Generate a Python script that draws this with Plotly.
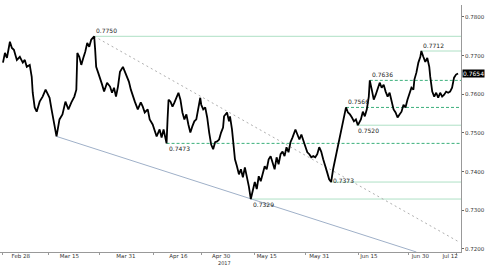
import plotly.graph_objects as go

# ---- data ----
bars = [3,5,7,10,12,14,17,20,23,25,27,30,32,33,35,37,40,43,46,48,50,52,54,56,57,60,63,66,69,72,75,77,78,80,82,84,86,88,90,92,95,
        96,97,99,101,103,105,108,111,113,115,117,119,121,124,126,128,130,132,134,136,139,142,144,146,149,151,154,156,158,161,163,165,168,169,170,172,174,176,178,180,
        182,184,186,188,190,192,194,196,198,200,202,203,205,207,209,211,213,215,217,219,221,223,225,226,229,231,232,234,235,237,239,241,243,245,247,249,251,253,255,257,259,261,263,265,267,269,271,273,
        275,277,279,281,283,285,287,289,291,293,295,297,298,300,302,304,306,308,310,312,314,316,318,320,322,324,326,328,330,332,334,336,338,340,342,344,346,347,349,351,353,355,357,359,361,
        364,366,368,370,372,373,375,377,379,381,383,385,387,389,391,393,395,397,399,401,403,405,407,409,411,413,415,417,418,420,422,424,425,427,429,431,433,434,436,438,440,442,444,446,448,450,452,454,456,458,460,462]
closes = [0.7682,0.7707,0.7694,0.7736,0.7720,0.7715,0.7689,0.7697,0.7682,0.7689,0.7671,0.7676,0.7645,0.7604,0.7566,0.7555,0.7581,0.7594,0.7612,0.7599,0.7591,0.7561,0.7535,0.7509,0.7491,0.7535,0.7548,0.7581,0.7561,0.7579,0.7594,0.7612,0.7707,0.7697,0.7676,0.7694,0.7710,0.7733,0.7723,0.7741,0.7750,
          0.7715,0.7671,0.7656,0.7643,0.7625,0.7607,0.7630,0.7620,0.7604,0.7617,0.7594,0.7620,0.7658,0.7671,0.7658,0.7645,0.7633,0.7612,0.7599,0.7581,0.7561,0.7579,0.7568,0.7553,0.7561,0.7535,0.7522,0.7509,0.7491,0.7509,0.7488,0.7509,0.7473,0.7535,0.7586,0.7581,0.7568,0.7579,0.7591,0.7604,
          0.7586,0.7553,0.7535,0.7548,0.7522,0.7501,0.7517,0.7530,0.7535,0.7568,0.7591,0.7573,0.7561,0.7566,0.7540,0.7501,0.7470,0.7458,0.7476,0.7478,0.7483,0.7501,0.7514,0.7543,0.7553,0.7530,0.7543,0.7509,0.7476,0.7432,0.7414,0.7393,0.7406,0.7385,0.7411,0.7388,0.7362,0.7329,0.7355,0.7373,0.7355,0.7388,0.7375,0.7393,0.7414,0.7406,0.7432,0.7440,
          0.7419,0.7406,0.7437,0.7419,0.7445,0.7452,0.7440,0.7463,0.7450,0.7476,0.7488,0.7501,0.7509,0.7496,0.7483,0.7496,0.7478,0.7465,0.7450,0.7445,0.7437,0.7440,0.7437,0.7445,0.7463,0.7452,0.7432,0.7411,0.7398,0.7380,0.7373,0.7406,0.7432,0.7450,0.7478,0.7509,0.7527,0.7543,0.7566,0.7553,0.7548,0.7540,0.7530,0.7535,0.7520,
          0.7535,0.7555,0.7543,0.7561,0.7594,0.7636,0.7612,0.7586,0.7599,0.7617,0.7630,0.7617,0.7625,0.7607,0.7594,0.7604,0.7581,0.7561,0.7553,0.7540,0.7548,0.7555,0.7573,0.7566,0.7586,0.7604,0.7617,0.7612,0.7638,0.7656,0.7682,0.7697,0.7712,0.7697,0.7684,0.7694,0.7671,0.7645,0.7607,0.7594,0.7604,0.7591,0.7604,0.7594,0.7599,0.7607,0.7604,0.7607,0.7617,0.7643,0.7651,0.7654]

tick_bars = [21, 70, 127, 180, 223, 269, 322, 372, 424, 454]
tick_labels = ["Feb 28", "Mar 15", "Mar 31", "Apr 16", "Apr 30", "May 15", "May 31", "Jun 15", "Jun 30", "Jul 12"]
minor_bars = [3, 49, 100, 155, 203, 257, 308, 362, 412, 460]
y_ticks = [0.7200, 0.7300, 0.7400, 0.7500, 0.7600, 0.7700, 0.7800]

# key levels: (price, start bar, style, label position)
level_prices = [0.7750, 0.7712, 0.7636, 0.7566, 0.7520, 0.7473, 0.7373, 0.7329]
level_starts = [95, 425, 373, 349, 359, 168, 334, 253]
level_dashed = [False, False, True, True, False, True, False, False]
level_label_pos = ["above", "above", "above", "above", "below", "below", "mid", "below"]

# trend lines
resist_bars = [95, 463]
resist_prices = [0.7750, 0.7218]
support_bars = [57, 420]
support_prices = [0.7491, 0.7192]

last_price = 0.7654
year_label = "2017"
year_bar = 226

X_MAX = 465
Y_RANGE = [0.7192, 0.7831]

fig = go.Figure()

for p, s, d in zip(level_prices, level_starts, level_dashed):
    fig.add_shape(type="line", x0=s, x1=X_MAX, y0=p, y1=p, xref="x", yref="y", layer="below",
                  line=dict(color="#3cb07c" if d else "#aee0c5", width=1,
                            dash="3px,2px" if d else "solid"))

fig.add_trace(go.Scatter(x=resist_bars, y=resist_prices, mode="lines",
                         line=dict(color="#b0b0b0", width=1, dash="2px,3px"), hoverinfo="skip"))
fig.add_trace(go.Scatter(x=support_bars, y=support_prices, mode="lines",
                         line=dict(color="#9fb0c8", width=1), hoverinfo="skip"))

fig.add_trace(go.Scatter(x=bars, y=closes, mode="lines",
                         line=dict(color="#000000", width=1.8), hoverinfo="skip"))

for p, s, pos in zip(level_prices, level_starts, level_label_pos):
    if pos == "above":
        ya, ys = "bottom", 0
    elif pos == "below":
        ya, ys = "top", 0
    else:
        ya, ys = "middle", 2
    fig.add_annotation(x=s, y=p, text=f"{p:.4f}", showarrow=False, xanchor="left",
                       yanchor=ya, yshift=ys, xshift=0,
                       font=dict(size=6, color="#222222", family="DejaVu Sans"))

fig.add_annotation(x=1, xref="paper", y=last_price, yref="y", text=f"{last_price:.4f}",
                   showarrow=False, xanchor="left", yanchor="middle", xshift=1,
                   bgcolor="#000000", borderpad=0,
                   font=dict(size=6, color="#ffffff", family="DejaVu Sans"))

fig.add_annotation(x=year_bar, xref="x", y=0, yref="paper", text=year_label, showarrow=False,
                   xanchor="center", yanchor="top", yshift=-6.5, borderpad=0,
                   font=dict(size=5, color="#333333", family="DejaVu Sans"))

fig.update_layout(
    width=485, height=266,
    margin=dict(l=0, r=20, t=5, b=14),
    paper_bgcolor="white", plot_bgcolor="white",
    showlegend=False,
    xaxis=dict(range=[0, X_MAX], tickmode="array", tickvals=tick_bars, ticktext=tick_labels,
               showgrid=False, zeroline=False, showline=True, linecolor="#999999", linewidth=1,
               ticks="", ticklabelstandoff=-2,
               tickfont=dict(size=5.5, color="#333333", family="DejaVu Sans"),
               minor=dict(tickmode="array", tickvals=minor_bars, ticks="outside", ticklen=2,
                          tickcolor="#999999", showgrid=False)),
    yaxis=dict(range=Y_RANGE, side="right", tickmode="array", tickvals=y_ticks,
               ticktext=[f"{v:.4f}" for v in y_ticks],
               showgrid=False, zeroline=False, showline=True, linecolor="#999999", linewidth=1,
               ticks="outside", ticklen=2, tickcolor="#666666",
               tickfont=dict(size=5.5, color="#333333", family="DejaVu Sans")),
)

fig.write_html("out.html")
